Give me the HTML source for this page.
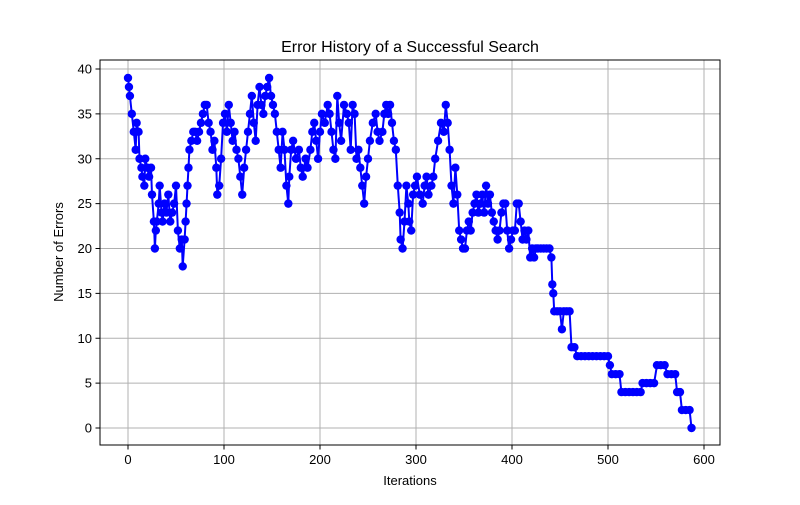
<!DOCTYPE html>
<html><head><meta charset="utf-8"><style>
html,body{margin:0;padding:0;background:#fff;}
svg text{font-family:"Liberation Sans","DejaVu Sans",sans-serif;fill:#000;}
</style></head><body>
<svg id="chart" width="800" height="500" viewBox="0 0 800 500" xmlns="http://www.w3.org/2000/svg">
<rect width="800" height="500" fill="#fff"/>
<text x="410" y="52" font-size="16" text-anchor="middle">Error History of a Successful Search</text>
<g id="grid"></g>
<g id="series"></g>
<rect x="100" y="60" width="620" height="385" fill="none" stroke="#000" stroke-width="1"/>
<g id="ticks"></g>
<text x="410" y="485" font-size="13" text-anchor="middle">Iterations</text>
<text x="63" y="252" font-size="13" text-anchor="middle" transform="rotate(-90 63 252)">Number of Errors</text>
</svg>
<script>
const iterations = [0,1,2,4,6,8,9,11,12,14,15,17,18,20,22,24,25,27,28,29,30,32,33,35,36,38,40,42,44,46,48,50,52,54,56,57,59,60,61,62,63,64,66,68,70,72,74,76,78,80,82,84,86,88,90,92,93,95,97,99,101,103,105,107,109,111,113,115,117,119,121,123,125,127,129,131,133,135,137,139,141,143,145,147,149,151,153,155,157,159,161,163,165,167,168,170,172,175,178,180,182,185,187,190,192,194,196,198,200,202,205,208,210,212,214,216,218,220,222,225,228,230,232,234,236,238,240,242,244,246,248,250,252,255,258,260,262,265,267,269,271,273,275,277,279,281,283,284,286,288,290,292,293,295,297,299,301,304,307,309,311,313,316,318,320,323,326,329,331,333,335,337,339,341,343,345,347,349,351,353,355,357,359,361,363,365,367,369,371,373,375,377,379,381,383,385,387,389,391,393,395,397,399,401,403,405,407,409,411,413,415,417,419,421,423,425,427,430,433,436,439,441,442,443,444,447,450,452,454,457,460,462,465,468,472,476,480,484,488,492,496,500,502,504,508,512,514,518,522,526,530,534,536,540,544,548,551,555,559,562,566,570,572,575,577,581,585,587];
const errors = [39,38,37,35,33,31,34,33,30,29,28,27,30,29,28,29,26,23,20,22,23,25,27,24,23,25,24,26,23,24,25,27,22,20,21,18,21,23,25,27,29,31,32,33,33,32,33,34,35,36,36,34,33,31,32,29,26,27,30,34,35,33,36,34,32,33,31,30,28,26,29,31,33,35,37,34,32,36,38,36,35,37,38,39,37,36,35,33,31,29,33,31,27,25,28,31,32,30,31,29,28,30,29,31,33,34,32,30,33,35,34,36,35,33,31,30,37,34,32,36,35,34,31,36,35,30,31,29,27,25,28,30,32,34,35,33,32,33,35,36,35,36,34,32,31,27,24,21,20,23,27,25,23,22,26,27,28,26,25,27,28,26,27,28,30,32,34,33,36,34,31,27,25,29,26,22,21,20,20,22,23,22,24,25,26,24,25,26,24,27,25,26,24,23,22,21,22,24,25,25,22,20,21,22,22,25,25,23,21,22,21,22,19,20,19,20,20,20,20,20,20,19,16,15,13,13,13,11,13,13,13,9,9,8,8,8,8,8,8,8,8,8,7,6,6,6,4,4,4,4,4,4,5,5,5,5,7,7,7,6,6,6,4,4,2,2,2,0];
const xTicks = [0,100,200,300,400,500,600];
const yTicks = [0,5,10,15,20,25,30,35,40];

const NS = "http://www.w3.org/2000/svg";
function xScale(v){ return 128 + v * 0.96; }
function yScale(v){ return 428 - v * 8.975; }
const grid = document.getElementById('grid');
const ticks = document.getElementById('ticks');
const series = document.getElementById('series');
function mk(tag, attrs, parent){ const e = document.createElementNS(NS, tag); for (const k in attrs) e.setAttribute(k, attrs[k]); parent.appendChild(e); return e; }

xTicks.forEach(t => {
  const x = xScale(t);
  const g = mk('line', {x1:x, x2:x, y1:60, y2:445, stroke:'#b0b0b0', 'stroke-width':1}, grid);
  
  
  const tk = mk('line', {x1:x, x2:x, y1:445, y2:449.5, stroke:'#000', 'stroke-width':1}, ticks);
  
  
  const tx = mk('text', {x:x, y:464, 'font-size':13, 'text-anchor':'middle'}, ticks);
  tx.textContent = t;
  
  
});
yTicks.forEach(t => {
  const y = yScale(t);
  const g = mk('line', {x1:100, x2:720, y1:y, y2:y, stroke:'#b0b0b0', 'stroke-width':1}, grid);
  
  
  const tk = mk('line', {x1:95.5, x2:100, y1:y, y2:y, stroke:'#000', 'stroke-width':1}, ticks);
  
  
  const tx = mk('text', {x:92, y:y+4.5, 'font-size':13, 'text-anchor':'end'}, ticks);
  tx.textContent = t;
  
  
});

const n = Math.min(iterations.length, errors.length);
const pts = [];
for (let i = 0; i < n; i++) pts.push(xScale(iterations[i]).toFixed(1) + ',' + yScale(errors[i]).toFixed(1));
const line = mk('polyline', {points:pts.join(' '), fill:'none', stroke:'#0000ff', 'stroke-width':2, 'stroke-linejoin':'round'}, series);


for (let i = 0; i < n; i++) {
  const c = mk('circle', {cx:xScale(iterations[i]), cy:yScale(errors[i]), r:4.2, fill:'#0000ff'}, series);
  
  
}
</script>
</body></html>
